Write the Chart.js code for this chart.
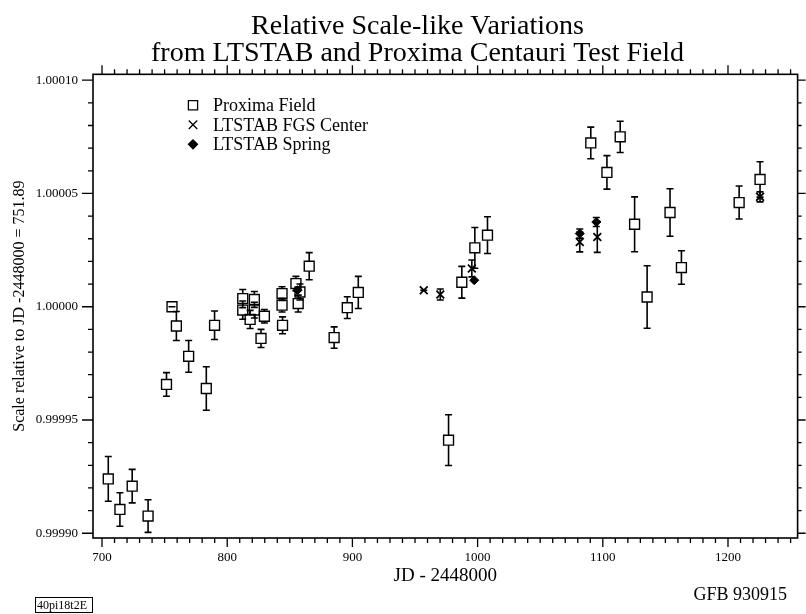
<!DOCTYPE html>
<html>
<head>
<meta charset="utf-8">
<script src="https://cdn.jsdelivr.net/npm/chart.js@4.4.1/dist/chart.umd.min.js"></script>
<style>
  html, body { margin: 0; padding: 0; background: #fff; }
</style>
</head>
<body>
<canvas id="myChart" width="806" height="614"></canvas>
<script>
'use strict';

// values (JD - 2448000, relative scale, 1-sigma error)
let proximaJD = [705.0, 714.3, 724.1, 736.8, 751.5, 755.9, 759.4, 769.2, 783.3, 789.9,
  812.4, 812.4, 821.7, 821.7, 818.3, 829.7, 827.0, 843.8, 843.8, 844.2,
  854.9, 858.1, 856.7, 865.5, 885.4, 895.9, 904.7, 976.8, 987.4, 997.8,
  1007.9, 1090.4, 1113.9, 1103.3, 1125.4, 1135.4, 1153.7, 1162.8, 1208.9, 1225.6];
let proximaScale = [0.9999240, 0.9999105, 0.9999208, 0.9999076, 0.9999657, 1.0000000, 0.9999915, 0.9999781, 0.9999639, 0.9999918,
  1.0000036, 0.9999985, 1.0000032, 0.9999985, 0.9999944, 0.9999958, 0.9999860, 1.0000058, 1.0000007, 0.9999918,
  1.0000102, 1.0000065, 1.0000014, 1.0000179, 0.9999864, 0.9999996, 1.0000063, 0.9999411, 1.0000108, 1.0000260,
  1.0000316, 1.0000723, 1.0000750, 1.0000593, 1.0000364, 1.0000043, 1.0000416, 1.0000173, 1.0000460, 1.0000562];
let proximaErr = [0.0000099, 0.0000074, 0.0000074, 0.0000072, 0.0000052, 0, 0.0000064, 0.0000070, 0.0000096, 0.0000063,
  0.0000040, 0.0000040, 0.0000035, 0.0000035, 0.0000040, 0.0000030, 0.0000040, 0.0000030, 0.0000030, 0.0000037,
  0.0000032, 0.0000035, 0.0000037, 0.0000060, 0.0000047, 0.0000048, 0.0000071, 0.0000112, 0.0000070, 0.0000090,
  0.0000081, 0.0000070, 0.0000069, 0.0000074, 0.0000121, 0.0000138, 0.0000105, 0.0000074, 0.0000073, 0.0000078];

let fgsJD = [957.0, 970.2, 995.4, 1081.6, 1095.6, 1225.6];
let fgsScale = [1.0000073, 1.0000054, 1.0000169, 1.0000286, 1.0000308, 1.0000485];
let fgsErr = [0, 0.0000024, 0.0000037, 0.0000044, 0.0000068, 0.0000022];

let springJD = [856.2, 997.3, 1081.6, 1094.8];
let springScale = [1.0000073, 1.0000117, 1.0000323, 1.0000374];
let springErr = [null, null, 0.0000020, 0.0000020];

// tick labels
let xTicks = [700, 800, 900, 1000, 1100, 1200];
let yTicks = [0.99990, 0.99995, 1.00000, 1.00005, 1.00010];

let serif = 'Liberation Serif, Times New Roman, serif';

function toPoints(xs, ys) {
  let pts = [];
  for (let i = 0; i < xs.length; i++) {
    pts.push({ x: xs[i], y: ys[i] });
  }
  return pts;
}

// error bars, drawn through the y scale
const errorBars = {
  id: 'errorBars',
  afterDatasetsDraw(chart) {
    let ctx = chart.ctx;
    let yScale = chart.scales.y;
    ctx.save();
    ctx.strokeStyle = '#000';
    ctx.lineWidth = 1.6;
    chart.data.datasets.forEach((ds, i) => {
      let meta = chart.getDatasetMeta(i);
      meta.data.forEach((pt, j) => {
        let e = ds.errors[j];
        if (e === null || e === undefined) return;
        let v = ds.data[j].y;
        let top = yScale.getPixelForValue(v + e);
        let bot = yScale.getPixelForValue(v - e);
        let gap = ds.barGap;
        ctx.beginPath();
        if (pt.y - gap > top) {
          ctx.moveTo(pt.x, top);
          ctx.lineTo(pt.x, pt.y - gap);
          ctx.moveTo(pt.x, pt.y + gap);
          ctx.lineTo(pt.x, bot);
        }
        ctx.moveTo(pt.x - 3.5, top);
        ctx.lineTo(pt.x + 3.5, top);
        ctx.moveTo(pt.x - 3.5, bot);
        ctx.lineTo(pt.x + 3.5, bot);
        ctx.stroke();
      });
    });
    ctx.restore();
  }
};

// box round the plot with outward ticks on all four sides
const frameTicks = {
  id: 'frameTicks',
  afterDraw(chart) {
    let ctx = chart.ctx;
    let a = chart.chartArea;
    let xs = chart.scales.x;
    let ys = chart.scales.y;
    ctx.save();
    ctx.strokeStyle = '#000';
    ctx.lineWidth = 1.6;
    ctx.strokeRect(a.left, a.top, a.right - a.left, a.bottom - a.top);
    ctx.lineWidth = 1.3;
    ctx.beginPath();
    for (let jd = 700; jd <= 1250; jd += 10) {
      let px = xs.getPixelForValue(jd);
      let major = jd % 100 === 0;
      ctx.moveTo(px, a.bottom);
      ctx.lineTo(px, a.bottom + (major ? 9 : 5));
      ctx.moveTo(px, a.top);
      ctx.lineTo(px, a.top - (major ? 9 : 5));
    }
    for (let k = 0; k <= 20; k++) {
      let v = 0.99990 + k * 0.00001;
      let py = ys.getPixelForValue(v);
      let major = k % 5 === 0;
      ctx.moveTo(a.left, py);
      ctx.lineTo(a.left - (major ? 11 : 5), py);
      ctx.moveTo(a.right, py);
      ctx.lineTo(a.right + (major ? 8 : 4), py);
    }
    ctx.stroke();

    // legend inside the plot
    let lx = a.left + 100;
    let ly = a.top + 31;
    ctx.textBaseline = 'middle';
    ctx.textAlign = 'left';
    chart.data.datasets.forEach((ds, i) => {
      let y = ly + i * 19.5;
      ctx.fillStyle = ds.backgroundColor;
      ctx.strokeStyle = '#000';
      ctx.lineWidth = 1.3;
      Chart.helpers.drawPoint(ctx, {
        pointStyle: ds.pointStyle,
        radius: ds.legendRadius,
        borderWidth: 1.3
      }, lx, y);
      ctx.fillStyle = '#000';
      ctx.font = '18px ' + serif;
      ctx.fillText(ds.label, lx + 20, y + 1);
    });

    // footer notes
    ctx.fillStyle = '#000';
    ctx.font = '18px ' + serif;
    ctx.textAlign = 'right';
    ctx.textBaseline = 'alphabetic';
    ctx.fillText('GFB 930915', 787, 600);
    ctx.font = '12px ' + serif;
    ctx.textAlign = 'left';
    ctx.fillText('40pi18t2E', 37, 609);
    ctx.lineWidth = 1;
    ctx.strokeRect(35.5, 597.5, 57, 15);
    ctx.restore();
  }
};

let ctx = document.getElementById('myChart').getContext('2d');

let chartObject = {
  type: 'scatter',
  data: {
    datasets: [{
      label: 'Proxima Field',
      data: toPoints(proximaJD, proximaScale),
      errors: proximaErr,
      barGap: 5,
      pointStyle: 'rect',
      pointRadius: 7,
      legendRadius: 6.5,
      backgroundColor: 'rgba(0,0,0,0)',
      borderColor: '#000',
      borderWidth: 1.4
    },
    {
      label: 'LTSTAB FGS Center',
      data: toPoints(fgsJD, fgsScale),
      errors: fgsErr,
      barGap: 0,
      pointStyle: 'crossRot',
      pointRadius: 5.5,
      legendRadius: 6,
      backgroundColor: '#000',
      borderColor: '#000',
      borderWidth: 1.8
    },
    {
      label: 'LTSTAB Spring',
      data: toPoints(springJD, springScale),
      errors: springErr,
      barGap: 0,
      pointStyle: 'rectRot',
      pointRadius: 4.5,
      legendRadius: 4.5,
      backgroundColor: '#000',
      borderColor: '#000',
      borderWidth: 1
    }]
  },
  options: {
    responsive: false,
    devicePixelRatio: 1,
    animation: false,
    layout: {
      padding: { left: 34, right: 5, top: 0, bottom: 0 }
    },
    plugins: {
      legend: { display: false },
      tooltip: { enabled: false },
      title: {
        display: true,
        text: ['Relative Scale-like Variations', 'from LTSTAB and Proxima Centauri Test Field'],
        color: '#000',
        font: { family: serif, size: 28, weight: 'normal', lineHeight: 0.97 },
        padding: { top: 13, bottom: 7 }
      }
    },
    scales: {
      x: {
        type: 'linear',
        min: 692.8,
        max: 1255.6,
        grid: { display: false, drawTicks: false },
        border: { display: false },
        afterBuildTicks: (scale) => {
          scale.ticks = xTicks.map(v => ({ value: v }));
        },
        afterFit: (scale) => { scale.height = 76; },
        ticks: {
          color: '#000',
          padding: 12,
          maxRotation: 0,
          font: { family: serif, size: 13 },
          callback: (v) => String(v)
        },
        title: {
          display: true,
          text: 'JD - 2448000',
          color: '#000',
          font: { family: serif, size: 19 },
          padding: { top: 0, bottom: 27 }
        }
      },
      y: {
        type: 'linear',
        min: 0.9998979,
        max: 1.0001026,
        grid: { display: false, drawTicks: false },
        border: { display: false },
        afterBuildTicks: (scale) => {
          scale.ticks = yTicks.map(v => ({ value: v }));
        },
        afterFit: (scale) => { scale.width = 59; },
        ticks: {
          color: '#000',
          padding: 15,
          font: { family: serif, size: 13 },
          callback: (v) => v.toFixed(5)
        },
        title: {
          display: true,
          text: 'Scale relative to JD -2448000 = 751.89',
          color: '#000',
          font: { family: serif, size: 16 },
          padding: { top: -24, bottom: 0 }
        }
      }
    }
  },
  plugins: [errorBars, frameTicks]
};

new Chart(ctx, chartObject);
</script>
</body>
</html>
